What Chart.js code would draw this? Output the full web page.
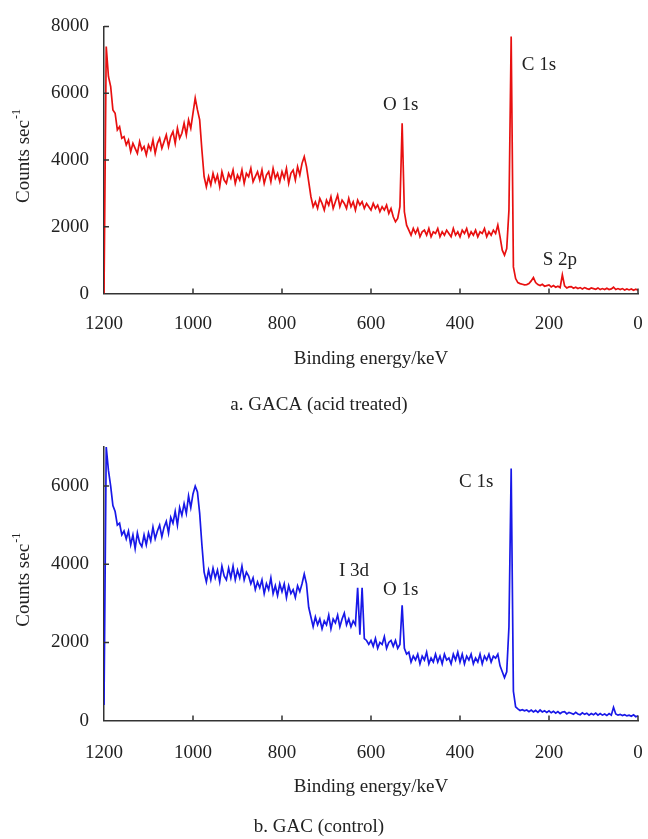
<!DOCTYPE html>
<html>
<head>
<meta charset="utf-8">
<script src="https://cdn.jsdelivr.net/npm/chart.js@4.4.1/dist/chart.umd.min.js"></script>
<style>
  html, body { margin: 0; padding: 0; background: #fff; }
  #wrap { position: relative; width: 648px; height: 839px; }
  .box { position: absolute; left: 0; width: 648px; }
  #boxA { top: 0; height: 420px; }
  #boxB { top: 420px; height: 419px; }
</style>
</head>
<body>
<div id="wrap">
  <div class="box" id="boxA"><canvas id="chartA" width="648" height="420"></canvas></div>
  <div class="box" id="boxB"><canvas id="chartB" width="648" height="419"></canvas></div>
</div>
<script>
// binding energy grid (keV), read every 5 keV
const energy = [
  1200,1195,1190,1185,1180,1175,1170,1165,1160,1155,
  1150,1145,1140,1135,1130,1125,1120,1115,1110,1105,
  1100,1095,1090,1085,1080,1075,1070,1065,1060,1055,
  1050,1045,1040,1035,1030,1025,1020,1015,1010,1005,
  1000,995,990,985,980,975,970,965,960,955,
  950,945,940,935,930,925,920,915,910,905,
  900,895,890,885,880,875,870,865,860,855,
  850,845,840,835,830,825,820,815,810,805,
  800,795,790,785,780,775,770,765,760,755,
  750,745,740,735,730,725,720,715,710,705,
  700,695,690,685,680,675,670,665,660,655,
  650,645,640,635,630,625,620,615,610,605,
  600,595,590,585,580,575,570,565,560,555,
  550,545,540,535,530,525,520,515,510,505,
  500,495,490,485,480,475,470,465,460,455,
  450,445,440,435,430,425,420,415,410,405,
  400,395,390,385,380,375,370,365,360,355,
  350,345,340,335,330,325,320,315,310,305,
  300,295,290,285,280,275,270,265,260,255,
  250,245,240,235,230,225,220,215,210,205,
  200,195,190,185,180,175,170,165,160,155,
  150,145,140,135,130,125,120,115,110,105,
  100,95,90,85,80,75,70,65,60,55,
  50,45,40,35,30,25,20,15,10,5,
  0
];

// a. GACA (acid treated)
const countsA = [
  0,7400,6500,6200,5500,5400,4900,5000,4650,4700,
  4450,4600,4250,4500,4350,4200,4550,4300,4400,4150,
  4450,4300,4600,4200,4500,4650,4350,4550,4750,4400,
  4700,4850,4500,4950,4650,4800,5100,4750,5200,4950,
  5400,5850,5500,5200,4300,3500,3200,3500,3250,3600,
  3350,3550,3200,3650,3400,3300,3600,3450,3700,3300,
  3550,3400,3700,3300,3600,3500,3750,3350,3500,3650,
  3400,3700,3300,3550,3650,3350,3750,3450,3600,3350,
  3650,3450,3750,3300,3600,3700,3400,3800,3550,3900,
  4100,3800,3350,2900,2600,2750,2550,2850,2700,2500,
  2800,2650,2900,2550,2750,2950,2600,2800,2700,2550,
  2850,2600,2750,2500,2800,2650,2750,2550,2700,2600,
  2500,2700,2550,2650,2450,2600,2500,2650,2400,2550,
  2300,2150,2250,2600,5100,2450,2050,1900,1750,1950,
  1800,1950,1700,1850,1900,1750,1950,1700,1850,1800,
  1950,1700,1850,1750,1900,1800,1700,1950,1750,1850,
  1700,1900,1800,1950,1700,1850,1750,1900,1700,1850,
  1800,1950,1700,1850,1750,1900,1800,2050,1700,1300,
  1150,1350,2500,7700,800,450,330,300,280,260,
  270,300,380,480,330,270,240,280,220,240,
  260,200,240,190,220,180,560,230,170,200,
  210,160,190,150,180,140,180,150,130,170,
  150,130,170,120,150,120,160,120,140,190,
  120,150,120,150,110,140,110,140,100,130,
  100
];

// b. GAC (control)
const countsB = [
  400,7000,6400,6000,5500,5350,5000,5050,4750,4850,
  4650,4850,4500,4750,4400,4800,4550,4450,4750,4500,
  4800,4600,4950,4650,4850,5000,4700,4950,5100,4800,
  5200,5050,5350,5000,5450,5250,5550,5300,5750,5450,
  5800,6000,5850,5300,4500,3800,3550,3850,3600,3900,
  3650,3850,3550,3950,3700,3600,3900,3650,3950,3600,
  3850,3650,3950,3600,3800,3700,3500,3650,3350,3550,
  3400,3600,3250,3500,3350,3650,3250,3450,3200,3500,
  3300,3500,3150,3450,3250,3350,3150,3450,3300,3500,
  3750,3500,2900,2650,2400,2650,2450,2600,2350,2550,
  2450,2700,2350,2600,2500,2700,2400,2600,2750,2450,
  2600,2400,2550,2450,3400,2200,3400,2100,2050,1950,
  2050,1900,2100,1850,2000,1950,2150,1850,2000,2050,
  1900,2050,1850,1950,2950,1850,1700,1750,1500,1650,
  1550,1700,1450,1650,1550,1750,1450,1600,1500,1700,
  1500,1650,1450,1700,1550,1600,1450,1700,1550,1750,
  1500,1700,1450,1650,1550,1700,1450,1600,1500,1700,
  1450,1650,1550,1700,1500,1650,1600,1700,1400,1250,
  1100,1250,2400,6450,750,350,300,260,280,250,
  270,230,270,220,260,210,270,220,250,210,
  250,200,240,190,230,180,220,230,170,210,
  190,160,210,170,150,200,160,190,140,180,
  150,190,140,180,140,170,130,180,140,340,
  170,140,160,130,150,120,140,110,150,100,
  120
];

const xTicks = [0, 200, 400, 600, 800, 1000, 1200];
const yTicksA = [0, 2000, 4000, 6000, 8000];
const yTicksB = [0, 2000, 4000, 6000];

// peak labels: text, left edge energy, middle counts
const peakTextA = ['C 1s', 'O 1s', 'S 2p'];
const peakEnergyA = [261, 573, 214];
const peakCountsA = [6850, 5650, 1000];

const peakTextB = ['C 1s', 'I 3d', 'O 1s'];
const peakEnergyB = [402, 672, 573];
const peakCountsB = [6100, 3820, 3330];

const serif = '"Liberation Serif", "Times New Roman", serif';
const ink = '#222';
Chart.defaults.font.family = serif;
Chart.defaults.font.size = 19;
Chart.defaults.color = ink;

// inward tick marks, rotated y title with superscript, peak labels
const decor = {
  id: 'decor',
  afterDraw(chart, args, opts) {
    const ctx = chart.ctx;
    const xs = chart.scales.x, ys = chart.scales.y;
    const area = chart.chartArea;
    ctx.save();
    ctx.strokeStyle = '#333';
    ctx.lineWidth = 1.5;
    ctx.beginPath();
    xTicks.forEach(v => {
      if (v === 1200) return;
      const px = xs.getPixelForValue(v);
      ctx.moveTo(px, area.bottom);
      ctx.lineTo(px, area.bottom - 5);
    });
    opts.yTicks.forEach(v => {
      if (v === 0) return;
      const py = ys.getPixelForValue(v);
      ctx.moveTo(area.left, py);
      ctx.lineTo(area.left + 5, py);
    });
    ctx.stroke();

    // y title
    ctx.fillStyle = ink;
    ctx.translate(24, (area.top + area.bottom) / 2 - 4);
    ctx.rotate(-Math.PI / 2);
    ctx.textBaseline = 'middle';
    ctx.textAlign = 'left';
    ctx.font = '19px ' + serif;
    const w1 = ctx.measureText('Counts sec').width;
    ctx.font = '12px ' + serif;
    const w2 = ctx.measureText('-1').width;
    const x0 = -(w1 + w2 + 1) / 2;
    ctx.font = '19px ' + serif;
    ctx.fillText('Counts sec', x0, 0);
    ctx.font = '12px ' + serif;
    ctx.fillText('-1', x0 + w1 + 1, -7);
    ctx.restore();

    // peak labels
    ctx.save();
    ctx.fillStyle = ink;
    ctx.font = '19px ' + serif;
    ctx.textAlign = 'left';
    ctx.textBaseline = 'middle';
    opts.text.forEach((t, i) => {
      ctx.fillText(t, xs.getPixelForValue(opts.energy[i]), ys.getPixelForValue(opts.counts[i]));
    });
    ctx.restore();
  }
};

function makeChart(id, counts, color, yMax, yTicks, caption, L, peaks) {
  return new Chart(document.getElementById(id), {
    type: 'line',
    data: {
      datasets: [{
        data: energy.map((e, i) => ({ x: e, y: counts[i] })),
        borderColor: color,
        borderWidth: 1.7,
        pointRadius: 0,
        tension: 0,
        fill: false
      }]
    },
    options: {
      responsive: false,
      animation: false,
      layout: { padding: { top: L.top, right: 10, left: 0, bottom: 0 } },
      scales: {
        x: {
          type: 'linear', reverse: true, min: 0, max: 1200,
          afterBuildTicks: s => { s.ticks = xTicks.map(v => ({ value: v })); },
          afterFit: s => { s.height = L.xHeight; s.paddingLeft = 0; s.paddingRight = 0; },
          grid: { display: true, drawOnChartArea: false, drawTicks: false },
          border: { display: true, color: '#333', width: 1.5 },
          ticks: { padding: L.xPad, color: ink, maxRotation: 0, autoSkip: false, callback: v => String(v) },
          title: { display: true, text: 'Binding energy/keV', color: ink, padding: { top: 0, bottom: L.titlePad } }
        },
        y: {
          min: 0, max: yMax,
          afterBuildTicks: s => { s.ticks = yTicks.map(v => ({ value: v })); },
          afterFit: s => { s.width = 104; },
          grid: { display: true, drawOnChartArea: false, drawTicks: false },
          border: { display: true, color: '#333', width: 1.5 },
          ticks: { padding: 15, color: ink, callback: v => String(v) }
        }
      },
      plugins: {
        legend: { display: false },
        tooltip: { enabled: false },
        title: {
          display: true, position: 'bottom', text: caption, color: ink,
          font: { size: 19, weight: 'normal' },
          padding: { top: 0, bottom: L.capPad }
        },
        decor: { yTicks: yTicks, text: peaks.text, energy: peaks.energy, counts: peaks.counts }
      }
    },
    plugins: [decor]
  });
}

makeChart('chartA', countsA, 'rgb(232,16,16)', 8000, yTicksA, 'a. GACA (acid treated)',
  { top: 21, xHeight: 99.6, xPad: 18.6, titlePad: 23.2, capPad: 4.0 },
  { text: peakTextA, energy: peakEnergyA, counts: peakCountsA });

makeChart('chartB', countsB, 'rgb(24,24,232)', 7000, yTicksB, 'b. GAC (control)',
  { top: 27, xHeight: 94.6, xPad: 20.6, titlePad: 17.2, capPad: 1.0 },
  { text: peakTextB, energy: peakEnergyB, counts: peakCountsB });
</script>
</body>
</html>
